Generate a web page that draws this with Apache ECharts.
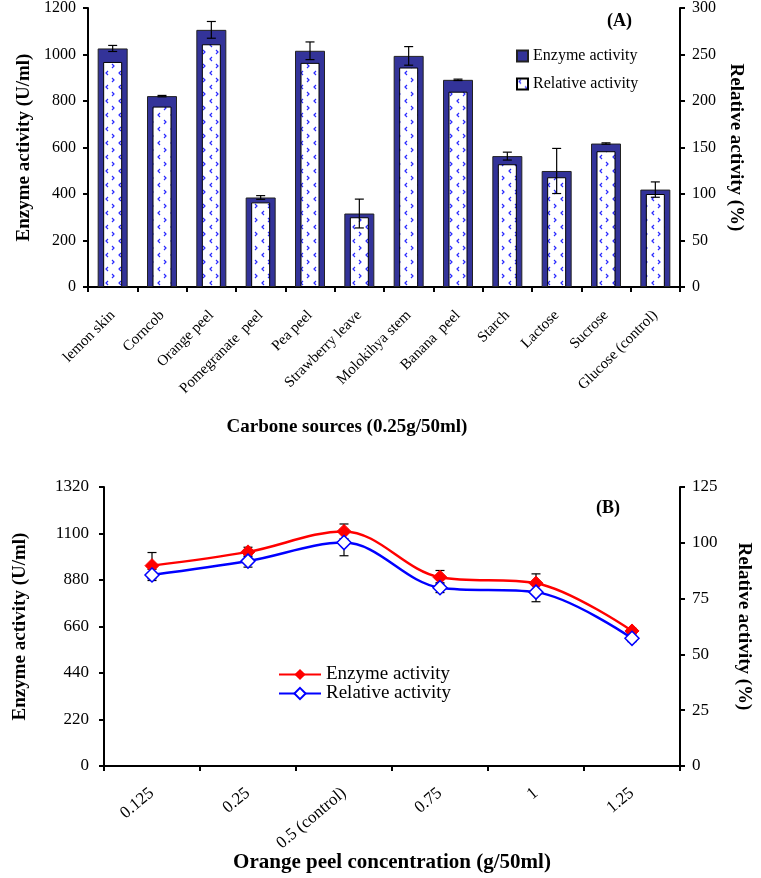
<!DOCTYPE html>
<html>
<head>
<meta charset="utf-8">
<script src="https://cdn.jsdelivr.net/npm/echarts@6/dist/echarts.min.js"></script>
<style>
html,body{margin:0;padding:0;background:#fff;}
#chart{width:761px;height:878px;}
</style>
</head>
<body>
<div id="chart"></div>
<script>
// ---------- Data (A) ----------
const carbonSources = ['lemon skin','Corncob','Orange peel','Pomegranate  peel','Pea peel','Strawberry leave','Molokihya stem','Banana  peel','Starch','Lactose','Sucrose','Glucose (control)'];
const enzymeA = [1026, 821, 1106, 385, 1016, 316, 994, 891, 563, 499, 617, 419];
const enzymeErrA = [13, 3, 36, 8, 38, 62, 40, 3, 17, 97, 3, 33];
const relativeA = [242, 194, 261, 91, 241, 75, 236, 210, 132, 118, 146, 100];
const leftTicksA = [0, 1200, 200];
const rightTicksA = [0, 300, 50];

// ---------- Data (B) ----------
const concentrations = ['0.125','0.25','0.5 (control)','0.75','1','1.25'];
const enzymeB = [948, 1013, 1110, 893, 865, 639];
const enzymeErrB = [62, 22, 35, 32, 44, 12];
const relativeB = [85.6, 91.8, 100.1, 79.9, 77.9, 57.2];
const relativeErrB = [2.5, 2.7, 5.9, 2.2, 4.3, 1.5];
const leftTicksB = [0, 1320, 220];
const rightTicksB = [0, 125, 25];

// ---------- Pattern ----------
function makePattern(){
  const c = document.createElement('canvas');
  c.width = 13; c.height = 14;
  const g = c.getContext('2d');
  g.fillStyle = '#ffffff'; g.fillRect(0,0,13,14);
  g.strokeStyle = '#2a2aff'; g.lineWidth = 1.2;
  g.beginPath(); g.moveTo(4,1); g.lineTo(2,3); g.lineTo(4,5); g.stroke();
  g.beginPath(); g.moveTo(8,8); g.lineTo(10,10); g.lineTo(8,12); g.stroke();
  return c;
}
const pattern = {image: makePattern(), repeat: 'repeat'};

const serif = '"Liberation Serif", "DejaVu Serif", serif';
const navy = '#333399';

function errRender(params, api){
  const xi = api.value(0), v = api.value(1), e = api.value(2);
  const hi = api.coord([xi, v + e]);
  const lo = api.coord([xi, v - e]);
  const w = 4.5;
  const st = {stroke:'#000', lineWidth:1.2};
  return {type:'group', children:[
    {type:'line', shape:{x1:hi[0],y1:hi[1],x2:lo[0],y2:lo[1]}, style:st},
    {type:'line', shape:{x1:hi[0]-w,y1:hi[1],x2:hi[0]+w,y2:hi[1]}, style:st},
    {type:'line', shape:{x1:lo[0]-w,y1:lo[1],x2:lo[0]+w,y2:lo[1]}, style:st}
  ]};
}

const axisLine = {show:true, lineStyle:{color:'#000', width:2}};
const axisTick = {show:true, inside:false, length:5, lineStyle:{color:'#000', width:2}};

function yAx(grid, pos, t, name, gap, fs, margin){
  return {
    type:'value', gridIndex:grid, position:pos, min:t[0], max:t[1], interval:t[2],
    axisLine:axisLine, axisTick:axisTick, splitLine:{show:false},
    axisLabel:{color:'#000', fontFamily:serif, fontSize:fs, margin:margin, formatter: v => String(v)},
    name:name, nameLocation:'middle', nameGap:gap, nameRotate: pos==='left'?90:-90,
    nameTextStyle:{color:'#000', fontFamily:serif, fontSize:19, fontWeight:'bold'}
  };
}

const chart = echarts.init(document.getElementById('chart'), null, {renderer:'canvas'});
chart.setOption({
  animation:false,
  backgroundColor:'#fff',
  grid:[
    {left:88, right:81, top:7, height:280},
    {left:104, right:81, top:487, height:279}
  ],
  xAxis:[
    {type:'category', gridIndex:0, data:carbonSources, axisLine:axisLine, axisTick:axisTick,
     axisLabel:{color:'#000', fontFamily:serif, fontSize:15, rotate:45, margin:26, interval:0}},
    {type:'category', gridIndex:0, data:carbonSources, show:false},
    {type:'category', gridIndex:1, data:concentrations, axisLine:axisLine, axisTick:axisTick,
     axisLabel:{color:'#000', fontFamily:serif, fontSize:17, rotate:40, margin:25, interval:0}}
  ],
  yAxis:[
    yAx(0,'left',leftTicksA,'Enzyme activity (U/ml)',49,16,12),
    yAx(0,'right',rightTicksA,'Relative activity (%)',46,16,12),
    yAx(1,'left',leftTicksB,'Enzyme activity (U/ml)',74,17,15),
    yAx(1,'right',rightTicksB,'Relative activity (%)',54,17,12)
  ],
  legend:[
    {left:511, top:43, orient:'vertical', itemWidth:11, itemHeight:11, itemGap:12, icon:'rect',
     textStyle:{fontFamily:serif, fontSize:16, color:'#000'},
     data:['Enzyme activity','Relative activity'], selectedMode:false},
    {left:273, top:660, orient:'vertical', itemWidth:42, itemHeight:14, itemGap:0,
     textStyle:{fontFamily:serif, fontSize:19, color:'#000', lineHeight:16},
     data:[{name:'Enzyme activity B'},{name:'Relative activity B'}], selectedMode:false,
     formatter: n => n.replace(' B','')}
  ],
  series:[
    {name:'Enzyme activity', type:'bar', xAxisIndex:0, yAxisIndex:0, data:enzymeA, barWidth:30,
     itemStyle:{color:navy, borderColor:'#222', borderWidth:1}},
    {name:'Relative activity', type:'bar', xAxisIndex:1, yAxisIndex:1, data:relativeA, barWidth:19,
     itemStyle:{color:pattern, borderColor:'#000', borderWidth:1}, z:3},
    {type:'custom', xAxisIndex:0, yAxisIndex:0, renderItem:errRender, z:5,
     data:enzymeA.map((v,i)=>[i, v, enzymeErrA[i]])},
    {type:'custom', xAxisIndex:2, yAxisIndex:2, renderItem:errRender, z:1,
     data:enzymeB.map((v,i)=>[i, v, enzymeErrB[i]])},
    {type:'custom', xAxisIndex:2, yAxisIndex:3, renderItem:errRender, z:1,
     data:relativeB.map((v,i)=>[i, v, relativeErrB[i]])},
    {name:'Relative activity B', type:'line', xAxisIndex:2, yAxisIndex:3, data:relativeB, smooth:0.35,
     symbol:'diamond', symbolSize:14, lineStyle:{color:'#0000ff', width:2.5},
     itemStyle:{color:'#ffffff', borderColor:'#0000ff', borderWidth:1.5}, z:3},
    {name:'Enzyme activity B', type:'line', xAxisIndex:2, yAxisIndex:2, data:enzymeB, smooth:0.35,
     symbol:'diamond', symbolSize:14, lineStyle:{color:'#ff0000', width:2.5},
     itemStyle:{color:'#ff0000', borderColor:'#ff0000'}, z:2}
  ],
  graphic:[
    {type:'text', left:607, top:12, style:{text:'(A)', font:'bold 18px '+serif, fill:'#000'}},
    {type:'text', left:596, top:499, style:{text:'(B)', font:'bold 18px '+serif, fill:'#000'}},
    {type:'text', x:347, y:427, style:{text:'Carbone sources (0.25g/50ml)', font:'bold 19px '+serif, fill:'#000', align:'center', verticalAlign:'middle'}},
    {type:'text', x:392, y:863, style:{text:'Orange peel concentration (g/50ml)', font:'bold 21px '+serif, fill:'#000', align:'center', verticalAlign:'middle'}}
  ]
});
</script>
</body>
</html>
